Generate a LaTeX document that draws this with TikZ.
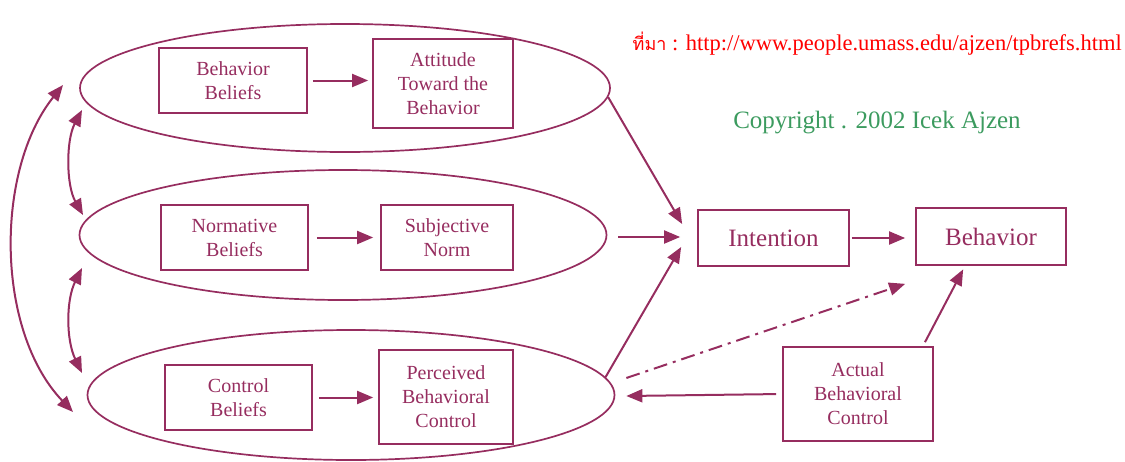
\documentclass[tikz,border=0pt]{standalone}
\usepackage{fontspec}
\setmainfont{Liberation Serif}
\newfontfamily\thaifont[Script=Thai]{Loma}
\usetikzlibrary{arrows.meta,shapes.geometric,calc}
\definecolor{maroon}{RGB}{150,45,95}
\definecolor{urlred}{RGB}{255,0,0}
\definecolor{copygreen}{RGB}{60,155,95}
\begin{document}
\begin{tikzpicture}[x=1pt,y=-1pt,
  every node/.style={text=maroon},
  ell/.style={draw=maroon,line width=1.7pt,ellipse,inner sep=0pt},
  boxnode/.style={draw=maroon,line width=1.7pt,rectangle,inner sep=0pt,align=center,
    font=\fontsize{20}{24}\selectfont},
  bignode/.style={boxnode,font=\fontsize{25}{30}\selectfont},
  conn/.style={draw=maroon,line width=2pt,-{Triangle[length=16pt,width=13pt]}},
  dconn/.style={draw=maroon,line width=2pt,{Triangle[length=16pt,width=13pt]}-{Triangle[length=16pt,width=13pt]}},
  dashdot/.style={conn,dash pattern=on 14pt off 6pt on 3pt off 6pt}
]
\useasboundingbox (0,0) rectangle (1125,461);

% ellipses
\node[ell,minimum width=530pt,minimum height=128pt] (e1) at (345,88) {};
\node[ell,minimum width=527pt,minimum height=130pt] (e2) at (343,235) {};
\node[ell,minimum width=527pt,minimum height=130pt] (e3) at (351,395) {};

% boxes
\node[boxnode,minimum width=148pt,minimum height=65pt] (bb) at (233,80.5) {Behavior\\Beliefs};
\node[boxnode,minimum width=140pt,minimum height=89pt] (att) at (443,83.5) {Attitude\\Toward the\\Behavior};
\node[boxnode,minimum width=147pt,minimum height=65pt] (nb) at (234.5,237.5) {Normative\\Beliefs};
\node[boxnode,minimum width=132pt,minimum height=65pt] (sn) at (447,237.5) {Subjective\\Norm};
\node[boxnode,minimum width=147pt,minimum height=65pt] (cb) at (238.5,397.5) {Control\\Beliefs};
\node[boxnode,minimum width=134pt,minimum height=94pt] (pbc) at (446,397) {Perceived\\Behavioral\\Control};
\node[bignode,minimum width=151pt,minimum height=56pt] (int) at (773.5,238) {Intention};
\node[bignode,minimum width=150pt,minimum height=57pt] (beh) at (991,236.5) {Behavior};
\node[boxnode,minimum width=150pt,minimum height=94pt] (abc) at (858,394) {Actual\\Behavioral\\Control};

% texts
\node[anchor=base east,text=urlred,inner sep=0pt,font=\fontsize{22.5}{27}\selectfont] (url) at (1122,50)
  {{\thaifont\fontsize{18}{22}\selectfont ที่มา} : http://www.people.umass.edu/ajzen/tpbrefs.html};
\node[anchor=base,text=copygreen,inner sep=0pt,font=\fontsize{25}{30}\selectfont] (copy) at (877,128)
  {Copyright . 2002 Icek Ajzen};

% inner arrows
\draw[conn,shorten <=5pt,shorten >=4pt] (bb.east) -- (bb.east -| att.west);
\draw[conn,shorten <=8pt,shorten >=7pt] (nb.east) -- (sn.west);
\draw[conn,shorten <=6pt,shorten >=5pt] (cb.east) -- (cb.east -| pbc.west);

% to intention
\coordinate (i1) at ($(int.west)+(-15,-14)$);
\coordinate (i2) at ($(int.west)+(-17,-1)$);
\coordinate (i3) at ($(int.west)+(-16,9)$);
\draw[conn] (e1.-2) -- (i1);
\draw[conn] ($(e2.east)+(11,2)$) -- (i2);
\draw[conn] (e3.4) -- (i3);

\draw[conn,shorten <=2pt,shorten >=10pt] (int.east) -- (int.east -| beh.west);
\coordinate (dd) at ($(beh.south west)+(-10,18)$);
\draw[dashdot] ($(e3.east)+(11,-17)$) -- (dd);
\draw[conn,shorten <=6pt] (abc.west) -- ($(e3.east)+(11,1)$);
\draw[conn,shorten >=4pt] ($(abc.north)+(67,-4)$) -- ($(beh.south)+(-26,0)$);

% left curved arrows
\coordinate (a1) at (63,85);
\coordinate (a2) at (73,412);
\draw[dconn] (a1) .. controls (-5,170) and (-5,330) .. (a2);
\coordinate (b1) at (82,110);
\coordinate (b2) at (83,215);
\draw[dconn] (b1) .. controls (66,140) and (66,185) .. (b2);
\coordinate (c1) at (82,268);
\coordinate (c2) at (82,373);
\draw[dconn] (c1) .. controls (66,300) and (66,340) .. (c2);
\end{tikzpicture}
\end{document}
